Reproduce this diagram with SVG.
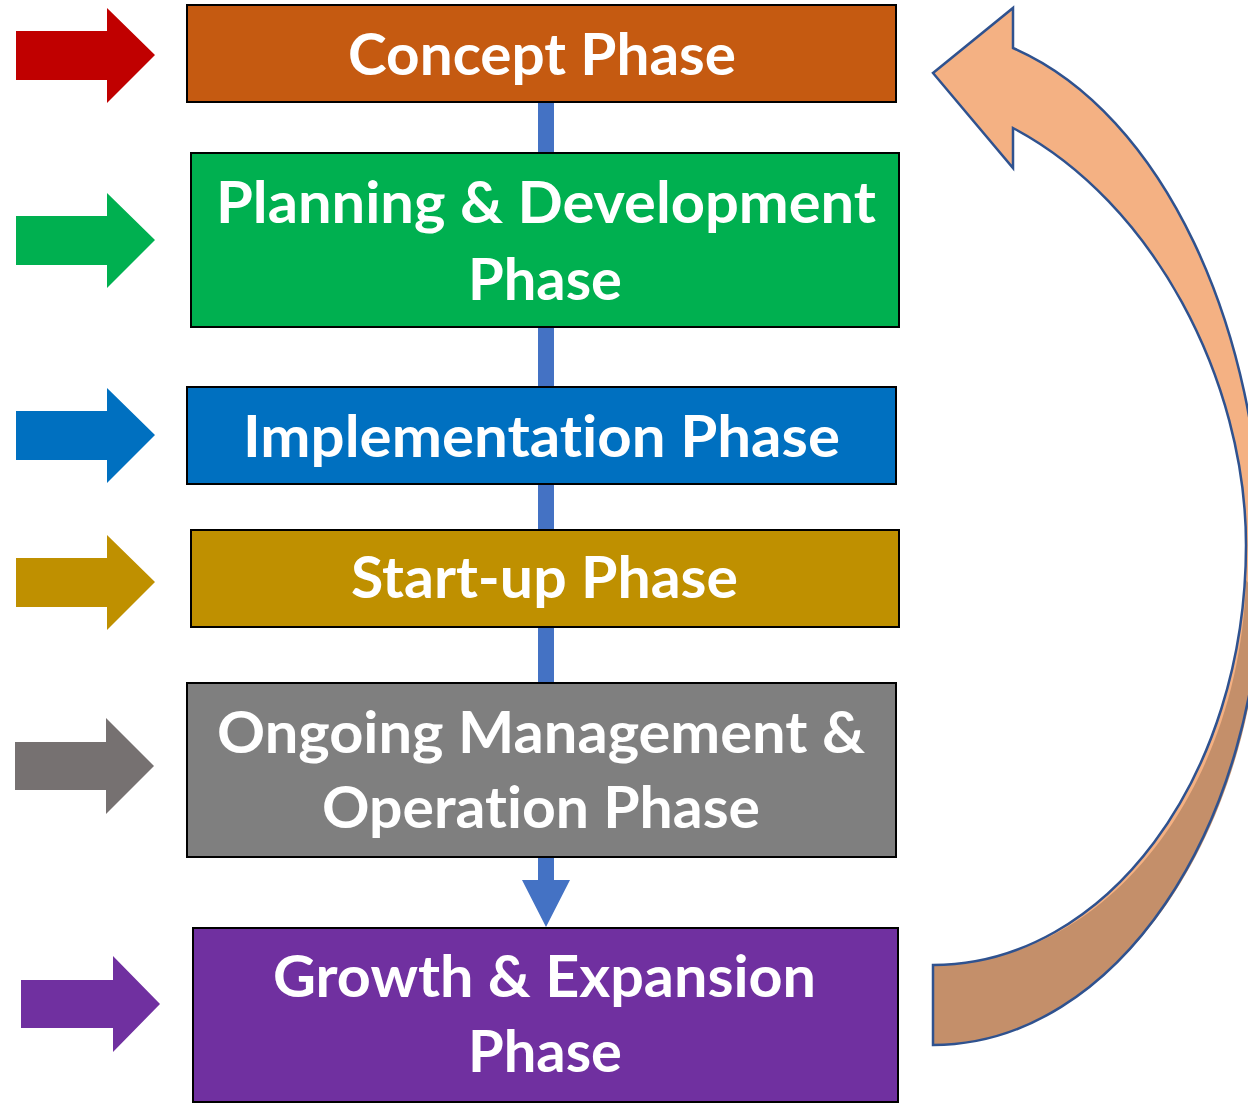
<svg xmlns="http://www.w3.org/2000/svg" width="1248" height="1103" viewBox="0 0 1248 1103">
<style>
.box{stroke:#000;stroke-width:2}
.lbl{font-family:Lato,"Open Sans","Liberation Sans",sans-serif;font-weight:bold;font-size:58px;fill:#fff;font-variant-ligatures:none;font-feature-settings:"liga" 0}
.conn{fill:#4472C4}
.curve{stroke:#2F528F;stroke-width:2.5;stroke-linejoin:miter}
</style>
<rect width="1248" height="1103" fill="#fff"/>
<g id="side-arrows">
<polygon fill="#C00000" points="16,31 107,31 107,8 155,55 107,103 107,80 16,80"/>
<polygon fill="#00B050" points="16,216 107,216 107,193 155,240 107,288 107,265 16,265"/>
<polygon fill="#0070C0" points="16,411 107,411 107,388 155,435 107,483 107,460 16,460"/>
<polygon fill="#BF9000" points="16,558 107,558 107,535 155,582 107,630 107,607 16,607"/>
<polygon fill="#767171" points="15,742 106,742 106,718 154,766 106,814 106,790 15,790"/>
<polygon fill="#7030A0" points="21,980 113,980 113,956 160,1004 113,1052 113,1028 21,1028"/>
</g>
<g id="connectors">
<rect class="conn" x="538" y="102" width="16" height="51"/>
<rect class="conn" x="538" y="327" width="16" height="60"/>
<rect class="conn" x="538" y="484" width="16" height="46"/>
<rect class="conn" x="538" y="627" width="16" height="56"/>
<polygon class="conn" points="538,857 554,857 554,880 570,880 546,927 522,880 538,880"/>
<g id="loop-arrow">
<path fill="#F4B183" d="M933,73 L1013,8 L1013,48 C1163,113 1262,330 1262,560 C1262,828 1115,1045 933,1045 L933,965 C1106,965 1246,777 1246,545 C1246,380 1153,202 1013,128 L1013,168 Z"/>
<path fill="#C48F6A" d="M1261,600 C1252,850 1105,1045 933,1045 L933,965 C1106,965 1240,790 1246,580 Z"/>
<path class="curve" fill="none" d="M933,73 L1013,8 L1013,48 C1163,113 1262,330 1262,560 C1262,828 1115,1045 933,1045 L933,965 C1106,965 1246,777 1246,545 C1246,380 1153,202 1013,128 L1013,168 Z"/>
</g>
</g>
<g id="concept">
<rect class="box" x="187" y="5" width="709" height="97" fill="#C55A11"/>
<text class="lbl" x="348" y="75" textLength="388" lengthAdjust="spacingAndGlyphs">Concept Phase</text>
</g>
<g id="planning">
<rect class="box" x="191" y="153" width="708" height="174" fill="#00B050"/>
<text class="lbl" x="216" y="223" textLength="660" lengthAdjust="spacingAndGlyphs">Planning &amp; Development</text>
<text class="lbl" x="468" y="300" textLength="154" lengthAdjust="spacingAndGlyphs">Phase</text>
</g>
<g id="implementation">
<rect class="box" x="187" y="387" width="709" height="97" fill="#0070C0"/>
<text class="lbl" x="243" y="457" textLength="597" lengthAdjust="spacingAndGlyphs">Implementation Phase</text>
</g>
<g id="startup">
<rect class="box" x="191" y="530" width="708" height="97" fill="#BF9000"/>
<text class="lbl" x="351" y="598" textLength="387" lengthAdjust="spacingAndGlyphs">Start-up Phase</text>
</g>
<g id="ongoing">
<rect class="box" x="187" y="683" width="709" height="174" fill="#7F7F7F"/>
<text class="lbl" x="217" y="753" textLength="648" lengthAdjust="spacingAndGlyphs">Ongoing Management &amp;</text>
<text class="lbl" x="322" y="828" textLength="438" lengthAdjust="spacingAndGlyphs">Operation Phase</text>
</g>
<g id="growth">
<rect class="box" x="193" y="928" width="705" height="174" fill="#7030A0"/>
<text class="lbl" x="273" y="997" textLength="543" lengthAdjust="spacingAndGlyphs">Growth &amp; Expansion</text>
<text class="lbl" x="468" y="1072" textLength="154" lengthAdjust="spacingAndGlyphs">Phase</text>
</g>
</svg>
